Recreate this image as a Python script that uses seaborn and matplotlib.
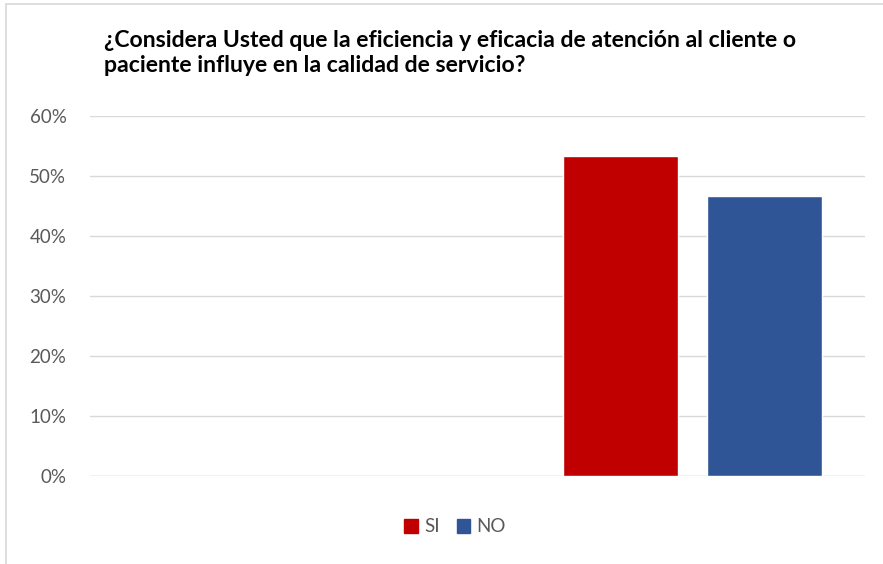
import matplotlib
matplotlib.use("Agg")
import matplotlib.pyplot as plt
import seaborn as sns
import pandas as pd
from matplotlib.patches import Patch
from matplotlib.lines import Line2D

# Survey answers (share of respondents)
respuestas = ["SI", "NO"]
porcentajes = [0.5333, 0.4667]
colores = ["#C00000", "#2F5597"]
yticks = [0, 0.1, 0.2, 0.3, 0.4, 0.5, 0.6]
ytick_labels = ["0%", "10%", "20%", "30%", "40%", "50%", "60%"]
titulo = ["¿Considera Usted que la eficiencia y eficacia de atención al cliente o",
          "paciente influye en la calidad de servicio?"]

df = pd.DataFrame({"grupo": [""] * len(respuestas),
                   "respuesta": respuestas,
                   "valor": porcentajes})

sns.set_theme(style="white")
plt.rcParams["font.family"] = ["Lato", "DejaVu Sans"]

W, H = 883, 564
fig = plt.figure(figsize=(W / 100, H / 100), dpi=100)
ax = fig.add_axes([90 / W, 88 / H, 775 / W, 360 / H])

sns.barplot(data=df, x="grupo", y="valor", hue="respuesta",
            hue_order=respuestas, palette=colores, width=0.8, gap=0.2,
            saturation=1, ax=ax, legend=False)

ax.set_xlim(-1.6736, 0.479)
ax.set_ylim(0, 0.6)
ax.set_yticks(yticks)
ax.set_yticklabels(ytick_labels, color="#595959", fontsize=13.5)
ax.set_xticks([])
ax.set_xlabel("")
ax.set_ylabel("")
ax.tick_params(axis="y", length=0, pad=17)
ax.yaxis.grid(True, color="#D9D9D9", linewidth=1)
ax.set_axisbelow(True)
for s in ax.spines.values():
    s.set_visible(False)
ax.axhline(0, color="#D9D9D9", linewidth=1, zorder=0.5)

# Two-line bold title, left aligned
for linea, base in zip(titulo, [47, 72]):
    fig.text(104 / W, 1 - base / H, linea, ha="left", va="baseline",
             fontsize=16.6, fontweight="bold", color="#000000")

handles = [Patch(facecolor=c, edgecolor=c) for c in colores]
fig.legend(handles, respuestas, loc="center", bbox_to_anchor=(455 / W, 1 - 527 / H),
           ncol=2, frameon=False, fontsize=13.5, labelcolor="#595959",
           handlelength=0.7, handleheight=0.7, handletextpad=0.35, columnspacing=0.9)

# Chart frame (left and top edges)
fig.add_artist(Line2D([6 / W, 6 / W], [0, 1 - 4 / H], color="#D9D9D9", linewidth=1.2))
fig.add_artist(Line2D([6 / W, 1], [1 - 4 / H, 1 - 4 / H], color="#D9D9D9", linewidth=1.2))

fig.savefig("out.png", dpi=100, facecolor="white")
